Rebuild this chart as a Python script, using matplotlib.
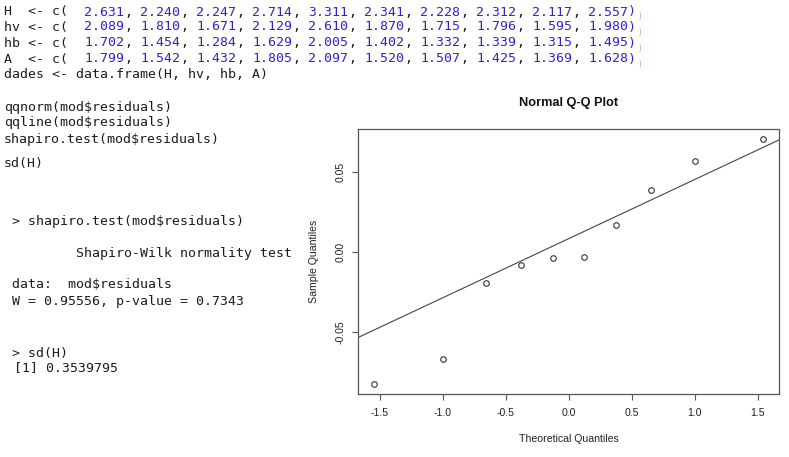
import numpy as np
import matplotlib.pyplot as plt

plt.rcParams['axes.unicode_minus'] = False

# R session shown on the left
H_vals = ['2.631', '2.240', '2.247', '2.714', '3.311', '2.341', '2.228', '2.312', '2.117', '2.557']
hv_vals = ['2.089', '1.810', '1.671', '2.129', '2.610', '1.870', '1.715', '1.796', '1.595', '1.980']
hb_vals = ['1.702', '1.454', '1.284', '1.629', '2.005', '1.402', '1.332', '1.339', '1.315', '1.495']
A_vals = ['1.799', '1.542', '1.432', '1.805', '2.097', '1.520', '1.507', '1.425', '1.369', '1.628']
var_names = ['H  ', 'hv ', 'hb ', 'A  ']

code_lines = ['dades <- data.frame(H, hv, hb, A)', '',
              'qqnorm(mod$residuals)', 'qqline(mod$residuals)', 'shapiro.test(mod$residuals)']
console = [(' > shapiro.test(mod$residuals)', 4, 222),
           ('         Shapiro-Wilk normality test', 4, 253),
           (' data:  mod$residuals', 4, 285),
           (' W = 0.95556, p-value = 0.7343', 4, 302),
           (' > sd(H)', 4, 353),
           (' [1] 0.3539795', 6, 368)]

# Normal Q-Q plot data (sorted residuals vs theoretical quantiles)
theo = [-1.5466, -1.0005, -0.6554, -0.3755, -0.1226, 0.1226, 0.3755, 0.6554, 1.0005, 1.5466]
residuals = [-0.0821, -0.0667, -0.0192, -0.0079, -0.0038, -0.0029, 0.0171, 0.0388, 0.0571, 0.0708]
xticks = [-1.5, -1.0, -0.5, 0.0, 0.5, 1.0, 1.5]
yticks = [-0.05, 0.0, 0.05]

W, Hpx = 789, 457
fig = plt.figure(figsize=(W / 100, Hpx / 100), dpi=100)

def fx(x):
    return x / W

def fy(y):
    return 1 - y / Hpx

mono = 'DejaVu Sans Mono'
fs = 9.57
pitch = 8.0
black = '#1c1c1c'
blue = '#3322cc'

def put(s, x, y, c=black, **kw):
    fig.text(fx(x), fy(y), s, family=mono, fontsize=fs, color=c, va='center', ha='left', **kw)

# assignment lines, numbers coloured like the editor
for i, (name, vals) in enumerate(zip(var_names, [H_vals, hv_vals, hb_vals, A_vals])):
    y = [12, 27, 43, 59][i]
    put(name + '<- c(', 4, y)
    for k, v in enumerate(vals):
        idx = 10 + 7 * k
        put(v, 4 + idx * pitch, y, blue)
        if k < len(vals) - 1:
            put(',', 4 + (idx + 5) * pitch, y)
    put(')', 4 + 78 * pitch, y, blue)
    # faint bracket ghost at the line end, as in the screenshot
    fig.text(fx(4 + 79 * pitch + 1.5), fy(y + 5), ')', family=mono, fontsize=6,
             color='#9fb0dd', va='center', ha='left')

for s, y in zip(code_lines, [74, 90, 107, 123, 139]):
    put(s, 4, y)
put('sd(H)', 4, 164)

for s, x, y in console:
    put(s, x, y)

# Q-Q plot
ax = fig.add_axes([fx(358.3), fy(393.7), fx(779) - fx(358.3), fy(129) - fy(393.7)])
ax.plot(theo, residuals, 'o', mfc='none', mec='#333333', ms=4, mew=0.8)
ax.margins(0.04)

q1, q3 = np.quantile(residuals, [0.25, 0.75])
z = 0.6745
slope = (q3 - q1) / (2 * z)
icpt = q1 + slope * z
ax.axline((0, icpt), slope=slope, color='#444444', lw=0.8)

ax.set_xticks(xticks)
ax.set_xticklabels(['%.1f' % t for t in xticks])
ax.set_yticks(yticks)
ax.set_yticklabels(['%.2f' % t for t in yticks], rotation=90, va='center')
for sp in ax.spines.values():
    sp.set_color('#555555')
    sp.set_linewidth(0.9)
ax.tick_params(direction='out', length=4.5, width=0.8, color='#555555',
               labelsize=7.6, labelcolor='#222222')
ax.tick_params(axis='x', pad=5.5)
ax.tick_params(axis='y', pad=4.5)
for lab in ax.get_xticklabels() + ax.get_yticklabels():
    lab.set_family('Liberation Sans')

fig.text(fx(568.5), fy(103.3), 'Normal Q-Q Plot', family='Liberation Sans',
         fontsize=9.2, fontweight='bold', ha='center', va='center', color='#111111')
fig.text(fx(568.5), fy(439), 'Theoretical Quantiles', family='Liberation Sans',
         fontsize=7.6, ha='center', va='center', color='#222222')
fig.text(fx(314), fy(261.3), 'Sample Quantiles', family='Liberation Sans',
         fontsize=7.6, ha='center', va='center', rotation=90, color='#222222')

fig.savefig('out.png', dpi=100)
